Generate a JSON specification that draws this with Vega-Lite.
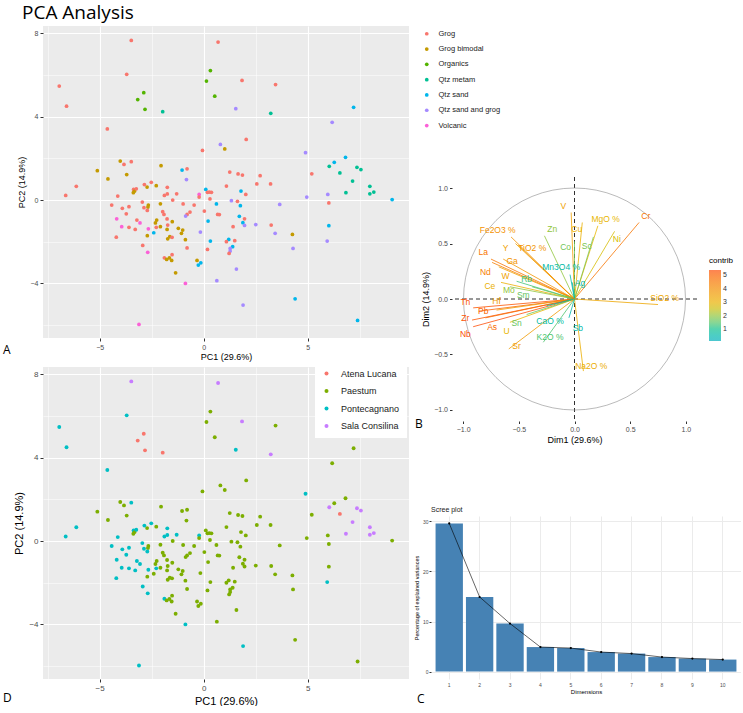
{
"$schema": "https://vega.github.io/schema/vega-lite/v6.json",
"background": "white",
"padding": {"left": 3, "top": 4, "right": 0, "bottom": 0},
"config": {"font": "Liberation Sans", "view": {"stroke": null}},
"datasets": {
"pts": [
{"pc1":-3.48,"pc2":7.66,"fabric":"Grog","site":"Sala Consilina"},
{"pc1":0.69,"pc2":7.58,"fabric":"Grog","site":"Sala Consilina"},
{"pc1":0.32,"pc2":6.21,"fabric":"Organics","site":"Paestum"},
{"pc1":0.13,"pc2":5.71,"fabric":"Organics","site":"Paestum"},
{"pc1":-3.70,"pc2":6.03,"fabric":"Grog","site":"Pontecagnano"},
{"pc1":1.84,"pc2":5.74,"fabric":"Grog","site":"Sala Consilina"},
{"pc1":3.45,"pc2":5.54,"fabric":"Grog","site":"Paestum"},
{"pc1":-6.94,"pc2":5.47,"fabric":"Grog","site":"Pontecagnano"},
{"pc1":-2.88,"pc2":5.15,"fabric":"Organics","site":"Atena Lucana"},
{"pc1":-3.17,"pc2":4.82,"fabric":"Organics","site":"Atena Lucana"},
{"pc1":0.53,"pc2":4.98,"fabric":"Organics","site":"Paestum"},
{"pc1":-6.59,"pc2":4.50,"fabric":"Grog","site":"Pontecagnano"},
{"pc1":-2.82,"pc2":4.35,"fabric":"Organics","site":"Atena Lucana"},
{"pc1":-1.97,"pc2":4.24,"fabric":"Qtz metam","site":"Atena Lucana"},
{"pc1":1.54,"pc2":4.38,"fabric":"Qtz sand and grog","site":"Pontecagnano"},
{"pc1":3.22,"pc2":4.16,"fabric":"Qtz metam","site":"Sala Consilina"},
{"pc1":7.20,"pc2":4.45,"fabric":"Qtz sand","site":"Paestum"},
{"pc1":6.17,"pc2":3.73,"fabric":"Qtz sand and grog","site":"Paestum"},
{"pc1":-4.63,"pc2":3.41,"fabric":"Grog","site":"Pontecagnano"},
{"pc1":2.04,"pc2":2.91,"fabric":"Grog","site":"Paestum"},
{"pc1":0.80,"pc2":2.67,"fabric":"Qtz sand and grog","site":"Paestum"},
{"pc1":1.01,"pc2":2.45,"fabric":"Grog bimodal","site":"Paestum"},
{"pc1":-0.06,"pc2":2.38,"fabric":"Grog","site":"Paestum"},
{"pc1":4.89,"pc2":2.27,"fabric":"Qtz sand and grog","site":"Pontecagnano"},
{"pc1":6.81,"pc2":2.05,"fabric":"Qtz sand","site":"Paestum"},
{"pc1":6.27,"pc2":1.81,"fabric":"Qtz sand","site":"Paestum"},
{"pc1":6.03,"pc2":1.62,"fabric":"Qtz metam","site":"Sala Consilina"},
{"pc1":7.36,"pc2":1.57,"fabric":"Qtz metam","site":"Sala Consilina"},
{"pc1":7.55,"pc2":1.46,"fabric":"Qtz metam","site":"Sala Consilina"},
{"pc1":6.54,"pc2":1.30,"fabric":"Qtz metam","site":"Atena Lucana"},
{"pc1":5.19,"pc2":1.26,"fabric":"Grog","site":"Paestum"},
{"pc1":7.15,"pc2":0.91,"fabric":"Qtz metam","site":"Sala Consilina"},
{"pc1":7.98,"pc2":0.66,"fabric":"Qtz metam","site":"Sala Consilina"},
{"pc1":6.83,"pc2":0.35,"fabric":"Qtz metam","site":"Sala Consilina"},
{"pc1":7.98,"pc2":0.30,"fabric":"Qtz metam","site":"Sala Consilina"},
{"pc1":8.17,"pc2":0.38,"fabric":"Qtz metam","site":"Sala Consilina"},
{"pc1":5.96,"pc2":0.27,"fabric":"Qtz sand and grog","site":"Paestum"},
{"pc1":4.95,"pc2":0.14,"fabric":"Qtz sand and grog","site":"Paestum"},
{"pc1":9.05,"pc2":0.02,"fabric":"Qtz sand","site":"Paestum"},
{"pc1":6.01,"pc2":-0.14,"fabric":"Grog","site":"Paestum"},
{"pc1":3.65,"pc2":-0.21,"fabric":"Qtz sand and grog","site":"Paestum"},
{"pc1":6.01,"pc2":-1.23,"fabric":"Qtz sand","site":"Paestum"},
{"pc1":5.93,"pc2":-1.97,"fabric":"Qtz sand and grog","site":"Pontecagnano"},
{"pc1":4.26,"pc2":-1.65,"fabric":"Grog bimodal","site":"Paestum"},
{"pc1":4.29,"pc2":-2.32,"fabric":"Qtz sand and grog","site":"Paestum"},
{"pc1":3.43,"pc2":-1.60,"fabric":"Qtz sand and grog","site":"Paestum"},
{"pc1":2.50,"pc2":-1.18,"fabric":"Qtz sand and grog","site":"Paestum"},
{"pc1":3.24,"pc2":-1.20,"fabric":"Grog","site":"Paestum"},
{"pc1":4.39,"pc2":-4.74,"fabric":"Qtz sand","site":"Paestum"},
{"pc1":1.89,"pc2":-5.04,"fabric":"Qtz sand and grog","site":"Pontecagnano"},
{"pc1":7.39,"pc2":-5.78,"fabric":"Qtz sand","site":"Paestum"},
{"pc1":-3.11,"pc2":-5.97,"fabric":"Volcanic","site":"Pontecagnano"},
{"pc1":0.63,"pc2":-3.87,"fabric":"Qtz sand and grog","site":"Paestum"},
{"pc1":1.57,"pc2":-3.31,"fabric":"Qtz sand and grog","site":"Paestum"},
{"pc1":-0.88,"pc2":-4.00,"fabric":"Volcanic","site":"Pontecagnano"},
{"pc1":-1.35,"pc2":-3.49,"fabric":"Grog bimodal","site":"Paestum"},
{"pc1":1.25,"pc2":1.34,"fabric":"Grog","site":"Paestum"},
{"pc1":1.65,"pc2":1.25,"fabric":"Grog","site":"Paestum"},
{"pc1":1.86,"pc2":1.20,"fabric":"Grog","site":"Paestum"},
{"pc1":2.71,"pc2":1.17,"fabric":"Grog","site":"Paestum"},
{"pc1":2.55,"pc2":0.77,"fabric":"Grog","site":"Paestum"},
{"pc1":3.21,"pc2":0.77,"fabric":"Grog","site":"Paestum"},
{"pc1":1.09,"pc2":0.67,"fabric":"Grog","site":"Paestum"},
{"pc1":1.79,"pc2":0.43,"fabric":"Qtz sand","site":"Paestum"},
{"pc1":2.02,"pc2":0.27,"fabric":"Grog","site":"Paestum"},
{"pc1":0.10,"pc2":0.51,"fabric":"Qtz sand","site":"Paestum"},
{"pc1":0.18,"pc2":0.37,"fabric":"Grog","site":"Paestum"},
{"pc1":0.27,"pc2":0.38,"fabric":"Grog","site":"Paestum"},
{"pc1":0.37,"pc2":0.37,"fabric":"Grog","site":"Paestum"},
{"pc1":0.30,"pc2":0.05,"fabric":"Grog","site":"Paestum"},
{"pc1":0.61,"pc2":-0.19,"fabric":"Qtz sand","site":"Paestum"},
{"pc1":1.33,"pc2":-0.03,"fabric":"Qtz sand and grog","site":"Paestum"},
{"pc1":1.62,"pc2":-0.06,"fabric":"Grog","site":"Paestum"},
{"pc1":1.76,"pc2":-0.27,"fabric":"Qtz sand","site":"Paestum"},
{"pc1":0.67,"pc2":-0.69,"fabric":"Grog","site":"Paestum"},
{"pc1":0.75,"pc2":-0.70,"fabric":"Grog","site":"Paestum"},
{"pc1":1.71,"pc2":-0.78,"fabric":"Qtz sand","site":"Paestum"},
{"pc1":1.96,"pc2":-0.90,"fabric":"Grog","site":"Paestum"},
{"pc1":1.88,"pc2":-1.09,"fabric":"Qtz sand","site":"Paestum"},
{"pc1":1.96,"pc2":-1.22,"fabric":"Qtz sand and grog","site":"Paestum"},
{"pc1":1.41,"pc2":-1.28,"fabric":"Grog","site":"Paestum"},
{"pc1":0.21,"pc2":-1.01,"fabric":"Qtz sand","site":"Paestum"},
{"pc1":0.03,"pc2":-0.53,"fabric":"Grog","site":"Paestum"},
{"pc1":1.20,"pc2":-1.89,"fabric":"Qtz sand","site":"Paestum"},
{"pc1":1.09,"pc2":-2.00,"fabric":"Grog","site":"Paestum"},
{"pc1":1.49,"pc2":-1.95,"fabric":"Grog","site":"Paestum"},
{"pc1":1.39,"pc2":-2.24,"fabric":"Qtz sand","site":"Paestum"},
{"pc1":1.27,"pc2":-2.32,"fabric":"Qtz sand and grog","site":"Paestum"},
{"pc1":1.27,"pc2":-2.45,"fabric":"Qtz sand and grog","site":"Paestum"},
{"pc1":1.22,"pc2":-2.56,"fabric":"Grog","site":"Paestum"},
{"pc1":0.32,"pc2":-1.97,"fabric":"Qtz sand","site":"Paestum"},
{"pc1":0.18,"pc2":-2.37,"fabric":"Grog","site":"Paestum"},
{"pc1":-0.16,"pc2":-1.54,"fabric":"Qtz sand and grog","site":"Paestum"},
{"pc1":-0.32,"pc2":-2.90,"fabric":"Grog bimodal","site":"Paestum"},
{"pc1":-0.26,"pc2":-3.12,"fabric":"Qtz sand","site":"Paestum"},
{"pc1":-0.14,"pc2":-3.01,"fabric":"Qtz sand","site":"Paestum"},
{"pc1":-0.22,"pc2":0.27,"fabric":"Volcanic","site":"Pontecagnano"},
{"pc1":-0.22,"pc2":0.14,"fabric":"Grog","site":"Paestum"},
{"pc1":-0.80,"pc2":1.50,"fabric":"Grog","site":"Paestum"},
{"pc1":-1.04,"pc2":1.44,"fabric":"Qtz sand","site":"Paestum"},
{"pc1":-0.83,"pc2":0.98,"fabric":"Qtz sand and grog","site":"Paestum"},
{"pc1":-1.30,"pc2":0.30,"fabric":"Grog","site":"Pontecagnano"},
{"pc1":-1.49,"pc2":0.00,"fabric":"Grog","site":"Paestum"},
{"pc1":-0.99,"pc2":-0.19,"fabric":"Grog","site":"Paestum"},
{"pc1":-0.46,"pc2":-0.24,"fabric":"Grog","site":"Paestum"},
{"pc1":-0.66,"pc2":-0.58,"fabric":"Grog","site":"Paestum"},
{"pc1":-0.80,"pc2":-0.69,"fabric":"Grog","site":"Paestum"},
{"pc1":-0.87,"pc2":-0.77,"fabric":"Qtz sand and grog","site":"Paestum"},
{"pc1":-1.89,"pc2":0.22,"fabric":"Grog","site":"Pontecagnano"},
{"pc1":-1.75,"pc2":0.29,"fabric":"Grog","site":"Pontecagnano"},
{"pc1":-1.75,"pc2":0.61,"fabric":"Grog","site":"Pontecagnano"},
{"pc1":-2.28,"pc2":0.69,"fabric":"Grog bimodal","site":"Paestum"},
{"pc1":-2.05,"pc2":1.65,"fabric":"Grog bimodal","site":"Paestum"},
{"pc1":-2.52,"pc2":0.85,"fabric":"Grog","site":"Pontecagnano"},
{"pc1":-2.72,"pc2":0.62,"fabric":"Grog bimodal","site":"Paestum"},
{"pc1":-2.85,"pc2":0.74,"fabric":"Grog","site":"Pontecagnano"},
{"pc1":-2.08,"pc2":-0.18,"fabric":"Grog bimodal","site":"Paestum"},
{"pc1":-1.97,"pc2":-0.56,"fabric":"Grog","site":"Paestum"},
{"pc1":-1.91,"pc2":-0.69,"fabric":"Grog","site":"Paestum"},
{"pc1":-1.76,"pc2":-0.91,"fabric":"Grog","site":"Paestum"},
{"pc1":-1.51,"pc2":-1.04,"fabric":"Grog bimodal","site":"Paestum"},
{"pc1":-2.26,"pc2":-0.96,"fabric":"Grog bimodal","site":"Paestum"},
{"pc1":-2.32,"pc2":-1.10,"fabric":"Grog bimodal","site":"Paestum"},
{"pc1":-2.28,"pc2":-1.31,"fabric":"Grog","site":"Pontecagnano"},
{"pc1":-2.08,"pc2":-1.28,"fabric":"Grog bimodal","site":"Paestum"},
{"pc1":-2.66,"pc2":-0.24,"fabric":"Grog bimodal","site":"Paestum"},
{"pc1":-2.68,"pc2":-0.34,"fabric":"Grog bimodal","site":"Paestum"},
{"pc1":-2.71,"pc2":-0.50,"fabric":"Grog","site":"Pontecagnano"},
{"pc1":-2.87,"pc2":-0.37,"fabric":"Grog","site":"Pontecagnano"},
{"pc1":-2.95,"pc2":-0.10,"fabric":"Grog","site":"Pontecagnano"},
{"pc1":-1.76,"pc2":-1.41,"fabric":"Grog bimodal","site":"Paestum"},
{"pc1":-1.73,"pc2":-1.20,"fabric":"Grog","site":"Paestum"},
{"pc1":-1.22,"pc2":-1.36,"fabric":"Grog bimodal","site":"Paestum"},
{"pc1":-1.01,"pc2":-1.44,"fabric":"Grog bimodal","site":"Paestum"},
{"pc1":-1.07,"pc2":-1.60,"fabric":"Grog bimodal","site":"Paestum"},
{"pc1":-0.88,"pc2":-1.90,"fabric":"Grog bimodal","site":"Paestum"},
{"pc1":-0.80,"pc2":-2.30,"fabric":"Grog","site":"Paestum"},
{"pc1":-1.73,"pc2":-1.86,"fabric":"Grog bimodal","site":"Paestum"},
{"pc1":-1.63,"pc2":-1.76,"fabric":"Grog bimodal","site":"Paestum"},
{"pc1":-1.52,"pc2":-1.79,"fabric":"Grog","site":"Paestum"},
{"pc1":-1.52,"pc2":-2.62,"fabric":"Grog","site":"Paestum"},
{"pc1":-1.89,"pc2":-2.77,"fabric":"Grog","site":"Pontecagnano"},
{"pc1":-1.78,"pc2":-2.85,"fabric":"Grog bimodal","site":"Paestum"},
{"pc1":-1.65,"pc2":-2.78,"fabric":"Grog bimodal","site":"Paestum"},
{"pc1":-1.54,"pc2":-2.90,"fabric":"Grog bimodal","site":"Paestum"},
{"pc1":-2.40,"pc2":-1.57,"fabric":"Qtz sand","site":"Paestum"},
{"pc1":-2.66,"pc2":-1.38,"fabric":"Volcanic","site":"Pontecagnano"},
{"pc1":-2.71,"pc2":-1.71,"fabric":"Grog bimodal","site":"Paestum"},
{"pc1":-2.69,"pc2":-2.51,"fabric":"Volcanic","site":"Pontecagnano"},
{"pc1":-2.93,"pc2":-2.18,"fabric":"Grog","site":"Pontecagnano"},
{"pc1":-3.21,"pc2":-0.96,"fabric":"Grog","site":"Pontecagnano"},
{"pc1":-3.06,"pc2":-1.10,"fabric":"Volcanic","site":"Pontecagnano"},
{"pc1":-3.29,"pc2":-1.41,"fabric":"Grog","site":"Pontecagnano"},
{"pc1":-3.72,"pc2":-0.66,"fabric":"Grog","site":"Pontecagnano"},
{"pc1":-3.91,"pc2":-0.40,"fabric":"Grog","site":"Pontecagnano"},
{"pc1":-3.59,"pc2":-0.32,"fabric":"Grog","site":"Pontecagnano"},
{"pc1":-3.94,"pc2":-1.28,"fabric":"Volcanic","site":"Pontecagnano"},
{"pc1":-4.18,"pc2":-0.90,"fabric":"Volcanic","site":"Pontecagnano"},
{"pc1":-3.59,"pc2":-1.31,"fabric":"Grog","site":"Pontecagnano"},
{"pc1":-4.20,"pc2":-1.78,"fabric":"Grog","site":"Pontecagnano"},
{"pc1":-4.42,"pc2":-0.24,"fabric":"Grog","site":"Pontecagnano"},
{"pc1":-4.13,"pc2":0.19,"fabric":"Grog","site":"Pontecagnano"},
{"pc1":-4.60,"pc2":1.01,"fabric":"Grog bimodal","site":"Paestum"},
{"pc1":-5.11,"pc2":1.41,"fabric":"Grog bimodal","site":"Paestum"},
{"pc1":-6.12,"pc2":0.66,"fabric":"Grog","site":"Pontecagnano"},
{"pc1":-6.63,"pc2":0.22,"fabric":"Grog","site":"Pontecagnano"},
{"pc1":-4.01,"pc2":1.87,"fabric":"Grog bimodal","site":"Paestum"},
{"pc1":-3.83,"pc2":1.71,"fabric":"Grog","site":"Paestum"},
{"pc1":-3.48,"pc2":1.84,"fabric":"Grog","site":"Pontecagnano"},
{"pc1":-3.70,"pc2":1.22,"fabric":"Grog bimodal","site":"Paestum"},
{"pc1":-3.37,"pc2":0.51,"fabric":"Grog","site":"Pontecagnano"},
{"pc1":-3.32,"pc2":0.43,"fabric":"Grog bimodal","site":"Paestum"},
{"pc1":-3.24,"pc2":0.54,"fabric":"Grog","site":"Pontecagnano"},
{"pc1":-3.38,"pc2":0.35,"fabric":"Grog bimodal","site":"Paestum"}
],
"vars": [
{"name":"Cr","x":0.58,"y":0.69,"lx":0.64,"ly":0.75,"contrib":4.6},
{"name":"SiO2 %","x":0.75,"y":-0.05,"lx":0.81,"ly":0.01,"contrib":3.3},
{"name":"V","x":-0.03,"y":0.78,"lx":-0.10,"ly":0.84,"contrib":3.5},
{"name":"MgO %","x":0.21,"y":0.66,"lx":0.28,"ly":0.72,"contrib":2.8},
{"name":"Cu","x":0.07,"y":0.69,"lx":0.02,"ly":0.63,"contrib":3.0},
{"name":"Ni","x":0.36,"y":0.61,"lx":0.38,"ly":0.54,"contrib":2.6},
{"name":"Zn","x":-0.27,"y":0.57,"lx":-0.20,"ly":0.63,"contrib":2.0},
{"name":"Co","x":0.0,"y":0.52,"lx":-0.08,"ly":0.47,"contrib":1.7},
{"name":"Sc","x":0.17,"y":0.56,"lx":0.11,"ly":0.48,"contrib":1.8},
{"name":"Fe2O3 %","x":-0.57,"y":0.56,"lx":-0.69,"ly":0.62,"contrib":3.9},
{"name":"Y","x":-0.53,"y":0.50,"lx":-0.62,"ly":0.46,"contrib":3.5},
{"name":"TiO2 %","x":-0.50,"y":0.48,"lx":-0.38,"ly":0.46,"contrib":3.8},
{"name":"La","x":-0.75,"y":0.36,"lx":-0.82,"ly":0.42,"contrib":4.6},
{"name":"Ga","x":-0.64,"y":0.36,"lx":-0.56,"ly":0.34,"contrib":3.8},
{"name":"Nd","x":-0.74,"y":0.33,"lx":-0.80,"ly":0.24,"contrib":4.4},
{"name":"W","x":-0.68,"y":0.29,"lx":-0.62,"ly":0.21,"contrib":3.5},
{"name":"Rb","x":-0.52,"y":0.16,"lx":-0.43,"ly":0.18,"contrib":1.3},
{"name":"Ce","x":-0.66,"y":0.15,"lx":-0.76,"ly":0.12,"contrib":3.0},
{"name":"Mo","x":-0.58,"y":0.11,"lx":-0.59,"ly":0.08,"contrib":2.0},
{"name":"Sm","x":-0.38,"y":0.11,"lx":-0.46,"ly":0.04,"contrib":1.6},
{"name":"Mn3O4 %","x":-0.04,"y":0.22,"lx":-0.12,"ly":0.29,"contrib":0.6},
{"name":"Ag","x":-0.02,"y":0.15,"lx":0.05,"ly":0.14,"contrib":0.4},
{"name":"Th","x":-0.91,"y":-0.08,"lx":-0.98,"ly":-0.03,"contrib":5.3},
{"name":"Pb","x":-0.86,"y":-0.11,"lx":-0.82,"ly":-0.11,"contrib":5.0},
{"name":"Hf","x":-0.70,"y":-0.10,"lx":-0.70,"ly":-0.02,"contrib":3.6},
{"name":"Zr","x":-0.92,"y":-0.19,"lx":-0.98,"ly":-0.17,"contrib":5.3},
{"name":"As","x":-0.80,"y":-0.17,"lx":-0.74,"ly":-0.25,"contrib":4.8},
{"name":"Nb","x":-0.91,"y":-0.25,"lx":-0.98,"ly":-0.32,"contrib":5.4},
{"name":"U","x":-0.58,"y":-0.21,"lx":-0.61,"ly":-0.29,"contrib":2.8},
{"name":"Sn","x":-0.43,"y":-0.14,"lx":-0.52,"ly":-0.22,"contrib":1.6},
{"name":"CaO %","x":-0.25,"y":-0.06,"lx":-0.22,"ly":-0.20,"contrib":0.7},
{"name":"K2O %","x":-0.28,"y":-0.39,"lx":-0.22,"ly":-0.34,"contrib":1.4},
{"name":"Sr","x":-0.59,"y":-0.45,"lx":-0.52,"ly":-0.42,"contrib":3.6},
{"name":"Na2O %","x":0.08,"y":-0.65,"lx":0.15,"ly":-0.60,"contrib":3.1},
{"name":"Sb","x":-0.05,"y":-0.17,"lx":0.03,"ly":-0.26,"contrib":0.5}
],
"scree": [
{"dim":1,"pct":29.6},{"dim":2,"pct":14.9},{"dim":3,"pct":9.6},{"dim":4,"pct":4.9},{"dim":5,"pct":4.7},
{"dim":6,"pct":3.9},{"dim":7,"pct":3.6},{"dim":8,"pct":2.9},{"dim":9,"pct":2.6},{"dim":10,"pct":2.4}
],
"one": [{"origin":0}]
},
"hconcat": [
{
"vconcat": [
{
"vconcat": [
{
"width": 366, "height": 312,
"view": {"fill": "#EBEBEB", "stroke": null},
"title": {"text": "PCA Analysis", "anchor": "start", "frame": "group", "font": "Open Sans", "fontSize": 19, "fontWeight": "normal", "color": "black", "dx": -21, "offset": 3},
"data": {"name": "pts"},
"mark": {"type": "circle", "size": 14, "opacity": 1},
"encoding": {
"x": {"field": "pc1", "type": "quantitative", "scale": {"domain": [-7.72, 9.86], "nice": false, "zero": false},
"axis": {"values": [-7.5,-5,-2.5,0,2.5,5,7.5], "labelExpr": "datum.value % 5 === 0 ? datum.label : ''", "domain": false, "gridColor": "white", "gridWidth": {"condition": {"test": "datum.value % 5 !== 0", "value": 0.5}, "value": 1.1}, "tickOpacity": {"condition": {"test": "datum.value % 5 !== 0", "value": 0}, "value": 1}, "tickColor": "#333333", "tickSize": 3, "labelColor": "#4D4D4D", "labelFontSize": 7, "labelPadding": 2, "title": "PC1 (29.6%)", "titleFontSize": 9, "titleFontWeight": "normal", "titleColor": "black", "titlePadding": 2}},
"y": {"field": "pc2", "type": "quantitative", "scale": {"domain": [-6.62, 8.35], "nice": false, "zero": false},
"axis": {"values": [-6,-4,-2,0,2,4,6,8], "labelExpr": "datum.value % 4 === 0 ? datum.label : ''", "domain": false, "gridColor": "white", "gridWidth": {"condition": {"test": "datum.value % 4 !== 0", "value": 0.5}, "value": 1.1}, "tickOpacity": {"condition": {"test": "datum.value % 4 !== 0", "value": 0}, "value": 1}, "tickColor": "#333333", "tickSize": 3, "labelColor": "#4D4D4D", "labelFontSize": 7, "labelPadding": 2, "title": "PC2 (14.9%)", "titleFontSize": 9, "titleFontWeight": "normal", "titleColor": "black", "titlePadding": 4}},
"color": {"field": "fabric", "type": "nominal",
"scale": {"domain": ["Grog","Grog bimodal","Organics","Qtz metam","Qtz sand","Qtz sand and grog","Volcanic"], "range": ["#F8766D","#C49A00","#53B400","#00C094","#00B6EB","#A58AFF","#FB61D7"]},
"legend": {"orient": "none", "legendX": 380, "legendY": 4, "title": null, "symbolType": "circle", "symbolSize": 14, "labelFontSize": 7.5, "labelColor": "#1A1A1A", "rowPadding": 6.3, "labelOffset": 8, "padding": 0}}
}
}
],
"title": {"text": "A", "orient": "bottom", "anchor": "start", "frame": "group", "font": "Open Sans", "fontSize": 12, "fontWeight": "normal", "color": "black", "dx": -40, "dy": -16.5, "offset": 0},
"bounds": "flush"
},
{
"width": 366, "height": 312,
"view": {"fill": "#EBEBEB", "stroke": null},
"title": {"text": "D", "orient": "bottom", "anchor": "start", "frame": "group", "font": "Open Sans", "fontSize": 12, "fontWeight": "normal", "color": "black", "dx": -40, "dy": -13.5, "offset": 0},
"data": {"name": "pts"},
"mark": {"type": "circle", "size": 15, "opacity": 1},
"encoding": {
"x": {"field": "pc1", "type": "quantitative", "scale": {"domain": [-7.72, 9.86], "nice": false, "zero": false},
"axis": {"values": [-7.5,-5,-2.5,0,2.5,5,7.5], "labelExpr": "datum.value % 5 === 0 ? datum.label : ''", "domain": false, "gridColor": "white", "gridWidth": {"condition": {"test": "datum.value % 5 !== 0", "value": 0.5}, "value": 1.1}, "tickOpacity": {"condition": {"test": "datum.value % 5 !== 0", "value": 0}, "value": 1}, "tickColor": "#333333", "tickSize": 3, "labelColor": "#4D4D4D", "labelFontSize": 8, "labelPadding": 2, "title": "PC1 (29.6%)", "titleFontSize": 11, "titleFontWeight": "normal", "titleColor": "black", "titlePadding": 3}},
"y": {"field": "pc2", "type": "quantitative", "scale": {"domain": [-6.62, 8.35], "nice": false, "zero": false},
"axis": {"values": [-6,-4,-2,0,2,4,6,8], "labelExpr": "datum.value % 4 === 0 ? datum.label : ''", "domain": false, "gridColor": "white", "gridWidth": {"condition": {"test": "datum.value % 4 !== 0", "value": 0.5}, "value": 1.1}, "tickOpacity": {"condition": {"test": "datum.value % 4 !== 0", "value": 0}, "value": 1}, "tickColor": "#333333", "tickSize": 3, "labelColor": "#4D4D4D", "labelFontSize": 8, "labelPadding": 2, "title": "PC2 (14.9%)", "titleFontSize": 11, "titleFontWeight": "normal", "titleColor": "black", "titlePadding": 4}},
"color": {"field": "site", "type": "nominal",
"scale": {"domain": ["Atena Lucana","Paestum","Pontecagnano","Sala Consilina"], "range": ["#F8766D","#7CAE00","#00BFC4","#C77CFF"]},
"legend": {"orient": "none", "legendX": 272, "legendY": -5, "title": null, "symbolType": "circle", "symbolSize": 16, "labelFontSize": 9, "labelColor": "#1A1A1A", "rowPadding": 7.5, "labelOffset": 10, "padding": 7, "fillColor": "white"}}
}
}
],
"spacing": 341,
"bounds": "flush",
"resolve": {"scale": {"color": "independent"}, "legend": {"color": "independent"}}
},
{
"hconcat": [
{
"vconcat": [
{
"width": 1, "height": 1,
"data": {"name": "one"},
"mark": {"type": "point", "opacity": 0},
"encoding": {}
},
{
"width": 310, "height": 163,
"title": {"text": "Scree plot", "anchor": "start", "frame": "group", "fontSize": 7, "fontWeight": "normal", "color": "#1A1A1A", "offset": 3},
"data": {"name": "scree"},
"layer": [
{
"mark": {"type": "bar", "color": "#4682B4"},
"encoding": {
"x": {"field": "dim", "type": "ordinal", "scale": {"domain": [1,2,3,4,5,6,7,8,9,10], "paddingInner": 0.1, "paddingOuter": 0.15},
"axis": {"labelAngle": 0, "grid": true, "gridColor": "#EBEBEB", "bandPosition": 0.5, "ticks": false, "domain": false, "labelColor": "#4D4D4D", "labelFontSize": 5, "labelPadding": 3, "title": "Dimensions", "titleFontSize": 6, "titleFontWeight": "normal", "titleColor": "black", "titlePadding": 1}},
"y": {"field": "pct", "type": "quantitative", "scale": {"domain": [-1.48, 31.08], "nice": false, "zero": false},
"axis": {"values": [0,5,10,15,20,25,30], "labelExpr": "datum.value % 10 === 0 ? datum.label : ''", "domain": false, "gridColor": "#EBEBEB", "gridWidth": {"condition": {"test": "datum.value % 10 !== 0", "value": 0.5}, "value": 1}, "tickOpacity": {"condition": {"test": "datum.value % 10 !== 0", "value": 0}, "value": 1}, "tickColor": "#333333", "tickSize": 2, "labelColor": "#4D4D4D", "labelFontSize": 5, "labelPadding": 1, "title": "Percentage of explained variances", "titleFontSize": 5.5, "titleFontWeight": "normal", "titleColor": "black", "titlePadding": 3}}
}
},
{
"mark": {"type": "line", "color": "black", "strokeWidth": 0.6, "point": {"color": "black", "size": 5}},
"encoding": {
"x": {"field": "dim", "type": "ordinal"},
"y": {"field": "pct", "type": "quantitative"}
}
}
]
}
],
"spacing": 489,
"bounds": "flush",
"title": {"text": "C", "orient": "bottom", "anchor": "start", "frame": "group", "font": "Open Sans", "fontSize": 12, "fontWeight": "normal", "color": "black", "dx": -14, "dy": 0, "offset": 0}
},
{
"vconcat": [
{
"width": 1, "height": 1,
"data": {"name": "one"},
"mark": {"type": "point", "opacity": 0},
"encoding": {}
},
{
"width": 245, "height": 244,
"layer": [
{
"data": {"name": "one"},
"mark": {"type": "rule", "strokeDash": [4, 3], "color": "#1A1A1A", "strokeWidth": 0.9},
"encoding": {"x": {"datum": 0, "type": "quantitative"}}
},
{
"data": {"name": "one"},
"mark": {"type": "rule", "strokeDash": [4, 3], "color": "#1A1A1A", "strokeWidth": 0.9},
"encoding": {"y": {"datum": 0, "type": "quantitative"}}
},
{
"data": {"name": "one"},
"mark": {"type": "point", "shape": "circle", "size": 49284, "filled": false, "color": "#8C8C8C", "strokeWidth": 0.6, "opacity": 1},
"encoding": {"x": {"datum": 0, "type": "quantitative"}, "y": {"datum": 0, "type": "quantitative"}}
},
{
"data": {"name": "vars"},
"mark": {"type": "rule", "strokeWidth": 0.8},
"encoding": {
"x": {"field": "x", "type": "quantitative", "scale": {"domain": [-1.1, 1.1], "nice": false, "zero": false},
"axis": {"values": [-1,-0.75,-0.5,-0.25,0,0.25,0.5,0.75,1], "format": ".1f", "labelExpr": "abs(datum.value*2 - round(datum.value*2)) < 0.01 ? datum.label : ''", "domain": false, "gridColor": "#EBEBEB", "gridWidth": {"condition": {"test": "abs(datum.value*2 - round(datum.value*2)) > 0.01", "value": 0.5}, "value": 1}, "tickOpacity": {"condition": {"test": "abs(datum.value*2 - round(datum.value*2)) > 0.01", "value": 0}, "value": 1}, "tickColor": "#333333", "tickSize": 2.5, "labelColor": "#4D4D4D", "labelFontSize": 7, "labelPadding": 2, "title": "Dim1 (29.6%)", "titleFontSize": 9, "titleFontWeight": "normal", "titleColor": "black", "titlePadding": 3}},
"y": {"field": "y", "type": "quantitative", "scale": {"domain": [-1.1, 1.1], "nice": false, "zero": false},
"axis": {"values": [-1,-0.75,-0.5,-0.25,0,0.25,0.5,0.75,1], "format": ".1f", "labelExpr": "abs(datum.value*2 - round(datum.value*2)) < 0.01 ? datum.label : ''", "domain": false, "gridColor": "#EBEBEB", "gridWidth": {"condition": {"test": "abs(datum.value*2 - round(datum.value*2)) > 0.01", "value": 0.5}, "value": 1}, "tickOpacity": {"condition": {"test": "abs(datum.value*2 - round(datum.value*2)) > 0.01", "value": 0}, "value": 1}, "tickColor": "#333333", "tickSize": 2.5, "labelColor": "#4D4D4D", "labelFontSize": 7, "labelPadding": 2, "title": "Dim2 (14.9%)", "titleFontSize": 9, "titleFontWeight": "normal", "titleColor": "black", "titlePadding": 3}},
"x2": {"datum": 0},
"y2": {"datum": 0},
"stroke": {"field": "contrib", "type": "quantitative",
"scale": {"domain": [0.1, 5.4], "range": ["#00AFBB", "#E7B800", "#FC4E07"]},
"legend": null}
}
},
{
"data": {"name": "vars"},
"mark": {"type": "text", "fontSize": 8.5, "font": "Liberation Sans"},
"encoding": {
"x": {"field": "lx", "type": "quantitative"},
"y": {"field": "ly", "type": "quantitative"},
"text": {"field": "name"},
"fill": {"field": "contrib", "type": "quantitative",
"scale": {"domain": [0.1, 5.4], "range": ["#00AFBB", "#E7B800", "#FC4E07"]},
"legend": null}
}
},
{
"data": {"name": "vars"},
"mark": {"type": "square", "size": 0},
"encoding": {
"x": {"field": "x", "type": "quantitative"},
"y": {"field": "y", "type": "quantitative"},
"color": {"field": "contrib", "type": "quantitative",
"scale": {"domain": [0.1, 5.4], "range": ["#00AFBB", "#E7B800", "#FC4E07"]},
"legend": {"type": "gradient", "orient": "none", "legendX": 257, "legendY": 80, "title": "contrib", "titleFontSize": 8, "titleFontWeight": "normal", "titleColor": "black", "labelFontSize": 7, "labelColor": "#333333", "gradientLength": 71, "gradientThickness": 12, "values": [1, 2, 3, 4, 5], "padding": 0}}
}
}
]
}
],
"spacing": 150,
"bounds": "flush",
"resolve": {"scale": {"color": "independent"}, "legend": {"color": "independent"}},
"title": {"text": "B", "orient": "bottom", "anchor": "start", "frame": "group", "font": "Open Sans", "fontSize": 12, "fontWeight": "normal", "color": "black", "dx": -37, "dy": -26, "offset": 0}
}
],
"spacing": 21,
"bounds": "flush",
"resolve": {"scale": {"color": "independent"}, "legend": {"color": "independent"}}
}
],
"spacing": 388,
"bounds": "flush",
"resolve": {"scale": {"color": "independent"}, "legend": {"color": "independent"}}
}
